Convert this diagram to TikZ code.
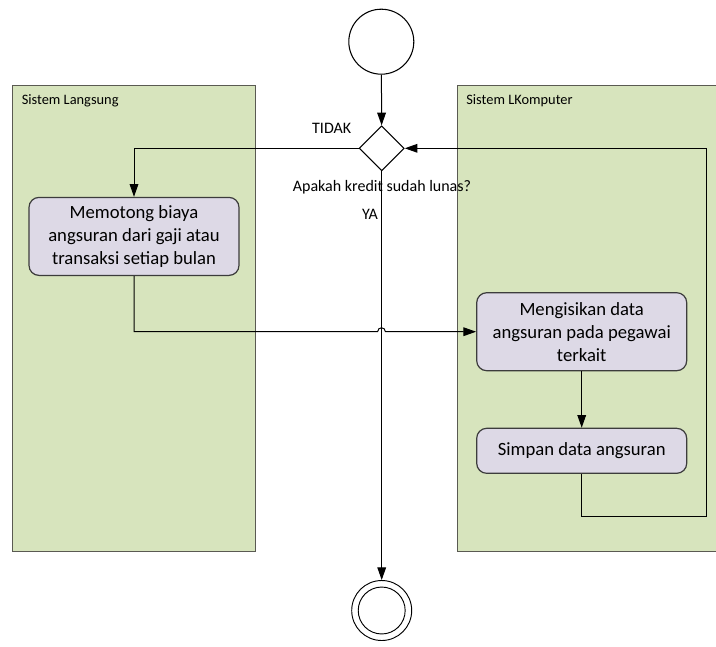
\documentclass[tikz,border=0pt]{standalone}
\usepackage{fontspec}
\setmainfont{Carlito}
\usetikzlibrary{arrows.meta,shapes.geometric}
\definecolor{lanegreen}{HTML}{D7E4BD}
\definecolor{laneline}{HTML}{5A5A52}
\definecolor{actfill}{HTML}{DDD9E6}
\definecolor{actline}{HTML}{3C3C3C}
\tikzset{
  lane/.style={fill=lanegreen,draw=laneline,line width=1pt},
  lanetitle/.style={anchor=west,font=\fontsize{10.8pt}{13pt}\selectfont,inner sep=0pt},
  activity/.style={rectangle,rounded corners=7.5pt,fill=actfill,draw=actline,line width=0.9pt,
    minimum width=157.5pt,align=center,inner sep=0pt,
    font=\fontsize{14pt}{17.2pt}\selectfont},
  decision/.style={diamond,draw=black,fill=white,line width=0.8pt,aspect=1,inner sep=0pt,
    minimum width=33.75pt,minimum height=33.75pt},
  flowlabel/.style={font=\fontsize{12pt}{14pt}\selectfont,inner sep=0pt},
  flow/.style={draw=black,line width=0.75pt,-{Triangle[length=9.5pt,width=6.5pt]}},
  plain/.style={draw=black,line width=0.75pt},
}
\begin{document}
\begin{tikzpicture}[x=0.75pt,y=-0.75pt]
\clip (0,0) rectangle (716,646);
\fill[white] (0,0) rectangle (716,646);

% swimlanes
\draw[lane] (12.3,85.3) rectangle (255.6,551.5);
\draw[lane] (457.5,85.3) rectangle (740,551.5);
\node[lanetitle] (laneL) at (21.5,100.8) {Sistem Langsung};
\node[lanetitle] (laneR) at (466,100.5) {Sistem LKomputer};

% start and end states
\node[circle,draw=black,line width=0.8pt,fill=white,minimum size=48.75pt,inner sep=0pt] (start) at (381.3,41.7) {};
\node[circle,draw=black,line width=0.7pt,fill=white,minimum size=45pt,inner sep=0pt] (end) at (381.7,610.5) {};
\draw[line width=0.7pt] (end.center) circle[radius=17.6pt];

% decision
\node[decision] (dec) at (381.7,148.3) {};
\node[flowlabel] (tidak) at (331.7,128.5) {TIDAK};
\node[flowlabel] (ya) at (370,214.5) {YA};

% activities
\node[activity,minimum height=58.5pt] (b1) at (134,236.4)
  {Memotong biaya\\angsuran dari gaji atau\\transaksi setiap bulan};
\node[activity,minimum height=58.5pt] (b2) at (581.7,331.7)
  {Mengisikan data\\angsuran pada pegawai\\terkait};
\node[activity,minimum height=33.75pt] (b3) at (581.7,450.8)
  {Simpan data angsuran};

% flows
\draw[flow] (start) -- (dec);
\draw[flow] (dec.west) -| (b1.north);
\draw[flow] (dec.south) -- (end);
\coordinate (hopL) at (377.5,331.7);
\coordinate (hopR) at (385.5,331.7);
\draw[flow] (b1.south) |- (hopL) .. controls (378,326.5) and (385,326.5) .. (hopR) -- (b2.west);
\draw[flow] (b2.south) -- (b3.north);
\coordinate (loopcorner) at (706.3,516);
\draw[flow] (b3.south) |- (loopcorner) |- (dec.east);

\node[flowlabel,fill=none] (q) at (382,187) {Apakah kredit sudah lunas?};
\end{tikzpicture}
\end{document}
